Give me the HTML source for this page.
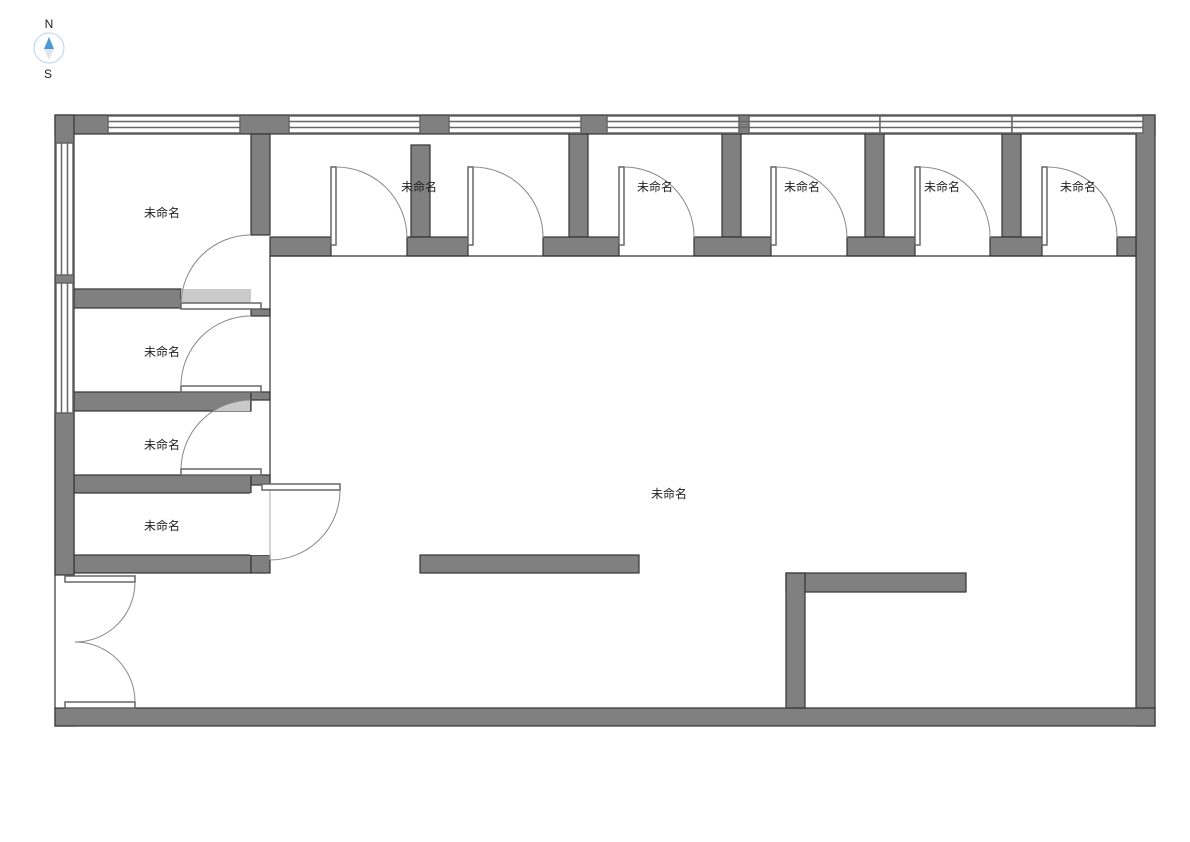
<!DOCTYPE html>
<html><head><meta charset="utf-8"><style>
html,body{margin:0;padding:0;background:#fff;}
svg{display:block;}
text{font-family:"Liberation Sans","Noto Sans CJK SC",sans-serif;font-size:12px;fill:#222;}
</style></head><body>
<svg width="1190" height="842" viewBox="0 0 1190 842" xmlns="http://www.w3.org/2000/svg">
<!-- compass -->
<circle cx="49" cy="48" r="15" fill="none" stroke="#b8d4ea" stroke-width="1"/>
<polygon points="49,37 44,49 54,49" fill="#4a9ad8"/>
<polygon points="49,60 44,49 54,49" fill="#e4e4ee"/>
<text x="49" y="28" text-anchor="middle" font-size="11">N</text>
<text x="48" y="78" text-anchor="middle" font-size="11">S</text>

<g fill="#808080" stroke="#333" stroke-width="1.2">
<rect x="55" y="115" width="1100" height="19"/>
<rect x="55" y="115" width="19" height="611"/>
<rect x="1136" y="115" width="19" height="611"/>
<rect x="55" y="708" width="1100" height="18"/>
<rect x="251" y="134" width="19" height="101"/>
<rect x="411" y="145" width="19" height="92"/>
<rect x="569" y="134" width="19" height="103"/>
<rect x="722" y="134" width="19" height="103"/>
<rect x="865" y="134" width="19" height="103"/>
<rect x="1002" y="134" width="19" height="103"/>
<rect x="270" y="237" width="61" height="19"/>
<rect x="407" y="237" width="61" height="19"/>
<rect x="543" y="237" width="76" height="19"/>
<rect x="694" y="237" width="77" height="19"/>
<rect x="847" y="237" width="68" height="19"/>
<rect x="990" y="237" width="52" height="19"/>
<rect x="1117" y="237" width="19" height="19"/>
<rect x="74" y="289" width="107" height="19"/>
<rect x="251" y="309" width="19" height="7"/>
<rect x="74" y="392" width="177" height="19"/>
<rect x="251" y="392" width="19" height="8"/>
<rect x="74" y="475" width="177" height="18"/>
<rect x="251" y="475" width="19" height="10"/>
<rect x="74" y="555" width="177" height="18"/>
<rect x="251" y="555" width="19" height="18"/>
<rect x="55" y="413" width="19" height="162"/>
<rect x="420" y="555" width="219" height="18"/>
<rect x="786" y="573" width="180" height="19"/>
<rect x="786" y="573" width="19" height="135"/>
</g>
<rect x="54" y="575.6" width="21.5" height="131.8" fill="#fff"/>
<line x1="55" y1="575" x2="55" y2="708" stroke="#333" stroke-width="1.2"/>
<line x1="270" y1="256" x2="1136" y2="256" stroke="#333" stroke-width="1.2"/>
<line x1="270" y1="256" x2="270" y2="485" stroke="#333" stroke-width="1.2"/>
<rect x="250" y="493" width="20" height="62" fill="#fff"/>
<line x1="270" y1="490" x2="270" y2="560" stroke="#aaa" stroke-width="1"/>

<g fill="#fff" stroke="#666" stroke-width="1.5">
<rect x="108" y="116" width="132" height="17"/>
<rect x="289" y="116" width="131" height="17"/>
<rect x="449" y="116" width="132" height="17"/>
<rect x="607" y="116" width="132" height="17"/>
<rect x="749" y="116" width="131" height="17"/>
<rect x="880" y="116" width="132" height="17"/>
<rect x="1012" y="116" width="131" height="17"/>
<line x1="108" y1="121.5" x2="240" y2="121.5"/><line x1="108" y1="127.5" x2="240" y2="127.5"/>
<line x1="289" y1="121.5" x2="420" y2="121.5"/><line x1="289" y1="127.5" x2="420" y2="127.5"/>
<line x1="449" y1="121.5" x2="581" y2="121.5"/><line x1="449" y1="127.5" x2="581" y2="127.5"/>
<line x1="607" y1="121.5" x2="1143" y2="121.5"/><line x1="607" y1="127.5" x2="1143" y2="127.5"/>
<rect x="56" y="143" width="17" height="132"/>
<rect x="56" y="283" width="17" height="130"/>
<line x1="61.5" y1="143" x2="61.5" y2="275"/><line x1="67.5" y1="143" x2="67.5" y2="275"/>
<line x1="61.5" y1="283" x2="61.5" y2="413"/><line x1="67.5" y1="283" x2="67.5" y2="413"/>
</g>

<g fill="#fff" stroke="#666" stroke-width="1.5">
<rect x="331" y="167" width="5" height="78"/>
<rect x="468" y="167" width="5" height="78"/>
<rect x="619" y="167" width="5" height="78"/>
<rect x="771" y="167" width="5" height="78"/>
<rect x="915" y="167" width="5" height="78"/>
<rect x="1042" y="167" width="5" height="78"/>
</g>
<g fill="none" stroke="#888" stroke-width="1">
<path d="M336,167 A71,71 0 0 1 407,238"/>
<path d="M473,167 A70,70 0 0 1 543,238"/>
<path d="M624,167 A70,70 0 0 1 694,238"/>
<path d="M776,167 A71,71 0 0 1 847,238"/>
<path d="M920,167 A70,70 0 0 1 990,238"/>
<path d="M1047,167 A70,70 0 0 1 1117,238"/>
</g>

<rect x="181" y="289" width="70" height="14" fill="#cacaca"/>
<path d="M250,400 A70,70 0 0 0 214,411 L250,411 Z" fill="#cacaca"/>
<g fill="#fff" stroke="#666" stroke-width="1.5">
<rect x="181" y="303" width="80" height="6"/>
<rect x="181" y="386" width="80" height="6"/>
<rect x="181" y="469" width="80" height="6"/>
<rect x="262" y="484" width="78" height="6"/>
<rect x="65" y="576" width="70" height="6"/>
<rect x="65" y="702" width="70" height="6"/>
</g>
<g fill="none" stroke="#888" stroke-width="1">
<path d="M251,235 A70,70 0 0 0 181,303"/>
<path d="M251,316 A70,70 0 0 0 181,386"/>
<path d="M251,400 A70,70 0 0 0 181,469"/>
<path d="M340,490 A70,70 0 0 1 270,560"/>
<path d="M135,582 A60,60 0 0 1 75,642"/>
<path d="M75,642 A60,60 0 0 1 135,702"/>
</g>

<text x="162" y="217" text-anchor="middle">未命名</text>
<text x="162" y="356" text-anchor="middle">未命名</text>
<text x="162" y="449" text-anchor="middle">未命名</text>
<text x="162" y="530" text-anchor="middle">未命名</text>
<text x="419" y="191" text-anchor="middle">未命名</text>
<text x="655" y="191" text-anchor="middle">未命名</text>
<text x="802" y="191" text-anchor="middle">未命名</text>
<text x="942" y="191" text-anchor="middle">未命名</text>
<text x="1078" y="191" text-anchor="middle">未命名</text>
<text x="669" y="498" text-anchor="middle">未命名</text>
</svg>
</body></html>
